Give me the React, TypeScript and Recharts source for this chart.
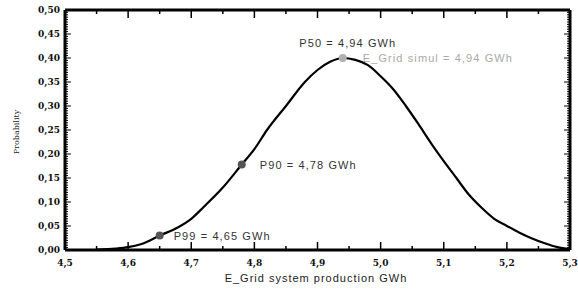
import React from 'react';
import { ComposedChart, Line, XAxis, YAxis, ReferenceDot } from 'recharts';

const energyGWh = [4.55, 4.58, 4.6, 4.62, 4.65, 4.68, 4.7, 4.72, 4.75, 4.78, 4.8, 4.82, 4.85, 4.88, 4.9, 4.92, 4.94, 4.96, 4.98, 5.0, 5.02, 5.04, 5.06, 5.08, 5.1, 5.12, 5.14, 5.16, 5.18, 5.2, 5.22, 5.24, 5.26, 5.28, 5.3];
const probability = [0.001, 0.003, 0.006, 0.012, 0.03, 0.048, 0.065, 0.09, 0.13, 0.178, 0.21, 0.25, 0.3, 0.35, 0.375, 0.392, 0.4, 0.396, 0.385, 0.362, 0.335, 0.3, 0.262, 0.222, 0.185, 0.15, 0.115, 0.088, 0.065, 0.05, 0.036, 0.024, 0.014, 0.006, 0.002];

const xMajorTicks = [4.5, 4.6, 4.7, 4.8, 4.9, 5.0, 5.1, 5.2, 5.3];
const xMinorTicks = [4.55, 4.65, 4.75, 4.85, 4.95, 5.05, 5.15, 5.25];
const yMajorTicks = [0, 0.05, 0.1, 0.15, 0.2, 0.25, 0.3, 0.35, 0.4, 0.45, 0.5];
const yMinorStep = 0.005;

const markerX = [4.65, 4.78, 4.94];
const markerY = [0.03, 0.178, 0.4];
const markerLabels = ['P99 = 4,65 GWh', 'P90 = 4,78 GWh', 'P50 = 4,94 GWh'];
const simulLabel = 'E_Grid simul = 4,94 GWh';

const data = energyGWh.map((x, i) => ({ x, y: probability[i] }));
const xTicks = [...xMajorTicks, ...xMinorTicks].sort((a, b) => a - b);
const yTicks: number[] = [];
for (let i = 0; i <= 100; i++) yTicks.push(Math.round(i * yMinorStep * 1000) / 1000);

const isMajor = (v: number, list: number[]) => list.some((m) => Math.abs(m - v) < 1e-6);
const fmt = (v: number, d: number) => v.toFixed(d).replace('.', ',');

const tickFont = { fontFamily: 'DejaVu Serif', fontSize: 9, fontWeight: 700, fill: '#111' };

const XTickBottom = (p: any) => {
  const { x, y, payload } = p;
  const major = isMajor(payload.value, xMajorTicks);
  return (
    <g>
      <line x1={x} x2={x} y1={y} y2={y - (major ? 8 : 4)} stroke="#000" strokeWidth={1.5} />
      {major && (
        <text x={x} y={y + 16} textAnchor="middle" {...tickFont}>
          {fmt(payload.value, 1)}
        </text>
      )}
    </g>
  );
};

const XTickTop = (p: any) => {
  const { x, y, payload } = p;
  const major = isMajor(payload.value, xMajorTicks);
  return <line x1={x} x2={x} y1={y} y2={y + (major ? 8 : 4)} stroke="#000" strokeWidth={1.5} />;
};

const YTickLeft = (p: any) => {
  const { x, y, payload } = p;
  const major = isMajor(payload.value, yMajorTicks);
  return (
    <g>
      <line x1={x} x2={x + (major ? 6 : 3)} y1={y} y2={y} stroke="#000" strokeWidth={1} />
      {major && (
        <text x={x - 5} y={y + 3} textAnchor="end" {...tickFont}>
          {fmt(payload.value, 2)}
        </text>
      )}
    </g>
  );
};

const YTickRight = (p: any) => {
  const { x, y, payload } = p;
  const major = isMajor(payload.value, yMajorTicks);
  return <line x1={x} x2={x - (major ? 6 : 3)} y1={y} y2={y} stroke="#000" strokeWidth={1} />;
};

const annFont = { fontFamily: 'Liberation Sans', fontSize: 11, fill: '#333', letterSpacing: 1.1 };

const makeShape = (i: number) => (p: any) => {
  const { cx, cy } = p;
  if (i === 2) {
    return (
      <g>
        <circle cx={cx} cy={cy} r={4} fill="#b0b0b0" />
        <text x={cx + 5} y={cy - 11} textAnchor="middle" {...annFont}>
          {markerLabels[i]}
        </text>
        <text x={cx + 20} y={cy + 4} {...annFont} fill="#a8a8a8">
          {simulLabel}
        </text>
      </g>
    );
  }
  return (
    <g>
      <circle cx={cx} cy={cy} r={4} fill="#555" />
      <text x={cx + (i === 0 ? 14 : 18)} y={cy + 4} {...annFont}>
        {markerLabels[i]}
      </text>
    </g>
  );
};

export default function App() {
  return (
    <div style={{ position: 'absolute', left: 0, top: 0, background: '#fff' }}>
      <ComposedChart width={578} height={290} data={data} margin={{ top: 0, right: 0, left: 0, bottom: 0 }}>
        <XAxis
          dataKey="x"
          type="number"
          domain={[4.5, 5.3]}
          ticks={xTicks}
          interval={0}
          tickSize={0}
          tickMargin={0}
          tickLine={false}
          tick={<XTickBottom />}
          axisLine={{ stroke: '#000', strokeWidth: 3 }}
          height={40}
          allowDataOverflow
        />
        <XAxis
          xAxisId="top"
          orientation="top"
          dataKey="x"
          type="number"
          domain={[4.5, 5.3]}
          ticks={xTicks}
          interval={0}
          tickSize={0}
          tickMargin={0}
          tickLine={false}
          tick={<XTickTop />}
          axisLine={{ stroke: '#000', strokeWidth: 3 }}
          height={10}
          allowDataOverflow
        />
        <YAxis
          type="number"
          domain={[0, 0.5]}
          ticks={yTicks}
          interval={0}
          tickSize={0}
          tickMargin={0}
          tickLine={false}
          tick={<YTickLeft />}
          axisLine={{ stroke: '#000', strokeWidth: 3 }}
          width={65}
          allowDataOverflow
        />
        <YAxis
          yAxisId="right"
          orientation="right"
          type="number"
          domain={[0, 0.5]}
          ticks={yTicks}
          interval={0}
          tickSize={0}
          tickMargin={0}
          tickLine={false}
          tick={<YTickRight />}
          axisLine={{ stroke: '#000', strokeWidth: 3 }}
          width={8}
          allowDataOverflow
        />
        <Line
          type="monotone"
          dataKey="y"
          stroke="#000"
          strokeWidth={2.2}
          dot={false}
          isAnimationActive={false}
        />
        {markerX.map((mx, i) => (
          <ReferenceDot key={i} x={mx} y={markerY[i]} r={4} shape={makeShape(i)} />
        ))}
        <text x={19} y={132} transform="rotate(-90 19 132)" textAnchor="middle" fontFamily="DejaVu Serif" fontSize={8} fill="#222">
          Probability
        </text>
        <text x={316} y={282} textAnchor="middle" fontFamily="Liberation Sans" fontSize={11} letterSpacing={1} fill="#222">
          E_Grid system production GWh
        </text>
      </ComposedChart>
    </div>
  );
}
